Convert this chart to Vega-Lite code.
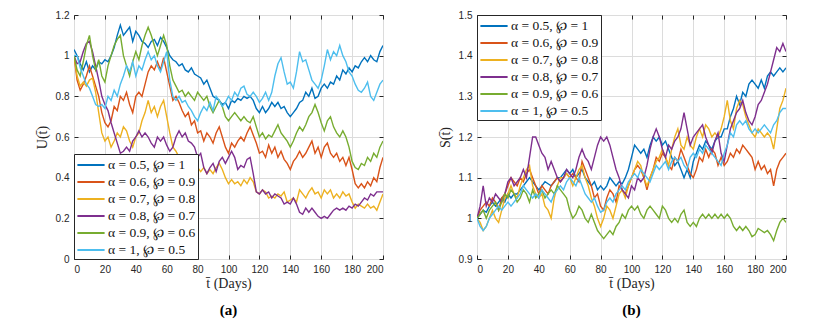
{
  "$schema": "https://vega.github.io/schema/vega-lite/v6.json",
  "background": "white",
  "padding": {"left": 34, "top": 9, "right": 5, "bottom": 5},
  "spacing": 94,
  "bounds": "flush",
  "resolve": {"legend": {"color": "independent"}},
  "config": {
    "view": {"stroke": "#262626", "strokeWidth": 1},
    "axis": {
      "domain": false,
      "grid": true,
      "gridColor": "#dcdcdc",
      "gridOpacity": 1,
      "gridWidth": 1,
      "ticks": false,
      "tickColor": "#262626",
      "labelFont": "Liberation Sans",
      "labelFontSize": 10,
      "labelColor": "#262626",
      "titleFont": "Liberation Serif",
      "titleFontSize": 14,
      "titleFontWeight": "normal",
      "titleColor": "#262626"
    },
    "axisX": {"labelPadding": 5},
    "axisY": {"labelPadding": 5},
    "legend": {
      "symbolType": "M-1.7,0H1.7",
      "symbolSize": 256,
      "symbolStrokeWidth": 2,
      "symbolOffset": 6,
      "labelFont": "Liberation Serif",
      "labelFontSize": 13.5,
      "labelOffset": 8,
      "labelColor": "#111111",
      "strokeColor": "#262626",
      "fillColor": "white",
      "padding": 2,
      "offset": 0,
      "cornerRadius": 0,
      "rowPadding": 1,
      "title": null
    }
  },
  "datasets": {
    "ua": [
      {"t":0,"s1":1.03,"s2":1.0,"s3":1.0,"s4":1.0,"s5":1.0,"s6":1.0},
      {"t":2,"s1":1.0,"s2":0.88,"s3":0.9,"s4":0.96,"s5":0.93,"s6":1.0},
      {"t":4,"s1":0.96,"s2":0.83,"s3":0.85,"s4":0.97,"s5":0.9,"s6":0.94},
      {"t":6,"s1":0.93,"s2":0.86,"s3":0.87,"s4":1.02,"s5":0.97,"s6":0.9},
      {"t":8,"s1":0.97,"s2":0.9,"s3":0.85,"s4":1.06,"s5":1.05,"s6":0.86},
      {"t":10,"s1":0.92,"s2":0.95,"s3":0.88,"s4":1.07,"s5":1.1,"s6":0.84},
      {"t":12,"s1":0.95,"s2":0.9,"s3":0.89,"s4":1.02,"s5":1.0,"s6":0.8},
      {"t":14,"s1":0.93,"s2":0.85,"s3":0.82,"s4":0.95,"s5":0.93,"s6":0.76},
      {"t":16,"s1":0.97,"s2":0.8,"s3":0.72,"s4":0.88,"s5":0.98,"s6":0.75},
      {"t":18,"s1":0.96,"s2":0.72,"s3":0.62,"s4":0.8,"s5":0.9,"s6":0.76},
      {"t":20,"s1":0.98,"s2":0.67,"s3":0.58,"s4":0.76,"s5":0.87,"s6":0.74},
      {"t":22,"s1":0.97,"s2":0.65,"s3":0.6,"s4":0.73,"s5":0.95,"s6":0.8},
      {"t":24,"s1":1.0,"s2":0.68,"s3":0.55,"s4":0.67,"s5":1.0,"s6":0.78},
      {"t":26,"s1":1.04,"s2":0.75,"s3":0.58,"s4":0.62,"s5":1.05,"s6":0.83},
      {"t":28,"s1":1.1,"s2":0.73,"s3":0.62,"s4":0.57,"s5":1.08,"s6":0.8},
      {"t":30,"s1":1.15,"s2":0.8,"s3":0.6,"s4":0.52,"s5":1.1,"s6":0.86},
      {"t":32,"s1":1.1,"s2":0.78,"s3":0.65,"s4":0.53,"s5":1.0,"s6":0.9},
      {"t":34,"s1":1.12,"s2":0.82,"s3":0.63,"s4":0.55,"s5":0.95,"s6":0.95},
      {"t":36,"s1":1.14,"s2":0.76,"s3":0.58,"s4":0.53,"s5":0.9,"s6":0.92},
      {"t":38,"s1":1.07,"s2":0.72,"s3":0.55,"s4":0.58,"s5":0.97,"s6":0.97},
      {"t":40,"s1":1.12,"s2":0.8,"s3":0.6,"s4":0.6,"s5":1.02,"s6":0.9},
      {"t":42,"s1":1.1,"s2":0.82,"s3":0.62,"s4":0.63,"s5":0.98,"s6":0.95},
      {"t":44,"s1":1.07,"s2":0.8,"s3":0.68,"s4":0.6,"s5":1.05,"s6":0.93},
      {"t":46,"s1":1.06,"s2":0.86,"s3":0.72,"s4":0.62,"s5":1.1,"s6":0.98},
      {"t":48,"s1":1.04,"s2":0.92,"s3":0.78,"s4":0.6,"s5":1.14,"s6":1.02},
      {"t":50,"s1":1.07,"s2":0.95,"s3":0.72,"s4":0.57,"s5":1.1,"s6":0.98},
      {"t":52,"s1":1.08,"s2":0.93,"s3":0.75,"s4":0.55,"s5":1.05,"s6":1.0},
      {"t":54,"s1":1.05,"s2":0.97,"s3":0.7,"s4":0.6,"s5":1.0,"s6":0.95},
      {"t":56,"s1":1.09,"s2":0.93,"s3":0.75,"s4":0.58,"s5":1.05,"s6":0.92},
      {"t":58,"s1":1.07,"s2":0.99,"s3":0.78,"s4":0.6,"s5":1.1,"s6":0.97},
      {"t":60,"s1":1.04,"s2":0.92,"s3":0.7,"s4":0.56,"s5":1.05,"s6":1.02},
      {"t":62,"s1":1.0,"s2":0.85,"s3":0.62,"s4":0.53,"s5":0.95,"s6":0.88},
      {"t":64,"s1":0.98,"s2":0.78,"s3":0.55,"s4":0.55,"s5":0.88,"s6":0.8},
      {"t":66,"s1":0.97,"s2":0.8,"s3":0.53,"s4":0.6,"s5":0.85,"s6":0.78},
      {"t":68,"s1":0.95,"s2":0.77,"s3":0.5,"s4":0.63,"s5":0.82,"s6":0.8},
      {"t":70,"s1":0.96,"s2":0.73,"s3":0.48,"s4":0.6,"s5":0.83,"s6":0.77},
      {"t":72,"s1":0.93,"s2":0.7,"s3":0.5,"s4":0.62,"s5":0.8,"s6":0.78},
      {"t":74,"s1":0.92,"s2":0.72,"s3":0.47,"s4":0.58,"s5":0.82,"s6":0.75},
      {"t":76,"s1":0.94,"s2":0.66,"s3":0.5,"s4":0.57,"s5":0.8,"s6":0.73},
      {"t":78,"s1":0.91,"s2":0.68,"s3":0.48,"s4":0.55,"s5":0.78,"s6":0.7},
      {"t":80,"s1":0.9,"s2":0.62,"s3":0.45,"s4":0.5,"s5":0.82,"s6":0.68},
      {"t":82,"s1":0.89,"s2":0.63,"s3":0.43,"s4":0.52,"s5":0.8,"s6":0.72},
      {"t":84,"s1":0.86,"s2":0.58,"s3":0.45,"s4":0.45,"s5":0.78,"s6":0.75},
      {"t":86,"s1":0.88,"s2":0.62,"s3":0.42,"s4":0.42,"s5":0.8,"s6":0.73},
      {"t":88,"s1":0.84,"s2":0.6,"s3":0.44,"s4":0.45,"s5":0.75,"s6":0.77},
      {"t":90,"s1":0.8,"s2":0.57,"s3":0.42,"s4":0.47,"s5":0.72,"s6":0.73},
      {"t":92,"s1":0.79,"s2":0.62,"s3":0.45,"s4":0.43,"s5":0.75,"s6":0.8},
      {"t":94,"s1":0.78,"s2":0.65,"s3":0.47,"s4":0.48,"s5":0.78,"s6":0.78},
      {"t":96,"s1":0.76,"s2":0.6,"s3":0.44,"s4":0.5,"s5":0.75,"s6":0.75},
      {"t":98,"s1":0.77,"s2":0.55,"s3":0.4,"s4":0.47,"s5":0.7,"s6":0.77},
      {"t":100,"s1":0.74,"s2":0.52,"s3":0.37,"s4":0.5,"s5":0.68,"s6":0.8},
      {"t":102,"s1":0.78,"s2":0.57,"s3":0.39,"s4":0.53,"s5":0.7,"s6":0.78},
      {"t":104,"s1":0.77,"s2":0.55,"s3":0.37,"s4":0.5,"s5":0.72,"s6":0.82},
      {"t":106,"s1":0.79,"s2":0.58,"s3":0.38,"s4":0.44,"s5":0.7,"s6":0.8},
      {"t":108,"s1":0.78,"s2":0.6,"s3":0.36,"s4":0.46,"s5":0.68,"s6":0.84},
      {"t":110,"s1":0.8,"s2":0.58,"s3":0.39,"s4":0.45,"s5":0.7,"s6":0.85},
      {"t":112,"s1":0.79,"s2":0.62,"s3":0.37,"s4":0.49,"s5":0.68,"s6":0.81},
      {"t":114,"s1":0.8,"s2":0.65,"s3":0.4,"s4":0.5,"s5":0.67,"s6":0.8},
      {"t":116,"s1":0.78,"s2":0.61,"s3":0.38,"s4":0.42,"s5":0.7,"s6":0.82},
      {"t":118,"s1":0.74,"s2":0.57,"s3":0.33,"s4":0.33,"s5":0.65,"s6":0.8},
      {"t":120,"s1":0.72,"s2":0.52,"s3":0.32,"s4":0.32,"s5":0.6,"s6":0.77},
      {"t":122,"s1":0.75,"s2":0.53,"s3":0.34,"s4":0.34,"s5":0.62,"s6":0.79},
      {"t":124,"s1":0.72,"s2":0.5,"s3":0.33,"s4":0.32,"s5":0.59,"s6":0.82},
      {"t":126,"s1":0.74,"s2":0.56,"s3":0.3,"s4":0.33,"s5":0.61,"s6":0.78},
      {"t":128,"s1":0.77,"s2":0.52,"s3":0.31,"s4":0.3,"s5":0.6,"s6":0.82},
      {"t":130,"s1":0.75,"s2":0.55,"s3":0.3,"s4":0.32,"s5":0.63,"s6":0.9},
      {"t":132,"s1":0.77,"s2":0.5,"s3":0.32,"s4":0.31,"s5":0.66,"s6":0.96},
      {"t":134,"s1":0.74,"s2":0.53,"s3":0.31,"s4":0.3,"s5":0.62,"s6":0.99},
      {"t":136,"s1":0.75,"s2":0.49,"s3":0.33,"s4":0.27,"s5":0.6,"s6":0.92},
      {"t":138,"s1":0.72,"s2":0.47,"s3":0.28,"s4":0.28,"s5":0.58,"s6":0.86},
      {"t":140,"s1":0.7,"s2":0.44,"s3":0.29,"s4":0.27,"s5":0.55,"s6":0.87},
      {"t":142,"s1":0.72,"s2":0.48,"s3":0.3,"s4":0.3,"s5":0.58,"s6":0.84},
      {"t":144,"s1":0.74,"s2":0.5,"s3":0.28,"s4":0.27,"s5":0.62,"s6":0.92},
      {"t":146,"s1":0.77,"s2":0.53,"s3":0.34,"s4":0.23,"s5":0.65,"s6":1.02},
      {"t":148,"s1":0.78,"s2":0.5,"s3":0.32,"s4":0.22,"s5":0.63,"s6":0.97},
      {"t":150,"s1":0.82,"s2":0.52,"s3":0.3,"s4":0.25,"s5":0.66,"s6":0.98},
      {"t":152,"s1":0.8,"s2":0.55,"s3":0.33,"s4":0.23,"s5":0.7,"s6":0.93},
      {"t":154,"s1":0.84,"s2":0.58,"s3":0.35,"s4":0.25,"s5":0.72,"s6":0.88},
      {"t":156,"s1":0.79,"s2":0.52,"s3":0.32,"s4":0.23,"s5":0.76,"s6":0.86},
      {"t":158,"s1":0.8,"s2":0.55,"s3":0.33,"s4":0.21,"s5":0.72,"s6":0.84},
      {"t":160,"s1":0.84,"s2":0.5,"s3":0.3,"s4":0.2,"s5":0.67,"s6":0.88},
      {"t":162,"s1":0.86,"s2":0.55,"s3":0.34,"s4":0.21,"s5":0.63,"s6":0.95},
      {"t":164,"s1":0.84,"s2":0.57,"s3":0.32,"s4":0.2,"s5":0.68,"s6":1.03},
      {"t":166,"s1":0.87,"s2":0.52,"s3":0.34,"s4":0.22,"s5":0.7,"s6":0.98},
      {"t":168,"s1":0.86,"s2":0.5,"s3":0.3,"s4":0.24,"s5":0.65,"s6":1.02},
      {"t":170,"s1":0.9,"s2":0.52,"s3":0.32,"s4":0.25,"s5":0.62,"s6":1.0},
      {"t":172,"s1":0.88,"s2":0.48,"s3":0.3,"s4":0.24,"s5":0.6,"s6":1.05},
      {"t":174,"s1":0.93,"s2":0.5,"s3":0.33,"s4":0.25,"s5":0.63,"s6":1.0},
      {"t":176,"s1":0.91,"s2":0.46,"s3":0.31,"s4":0.24,"s5":0.6,"s6":0.97},
      {"t":178,"s1":0.94,"s2":0.5,"s3":0.32,"s4":0.26,"s5":0.55,"s6":0.92},
      {"t":180,"s1":0.92,"s2":0.44,"s3":0.28,"s4":0.25,"s5":0.48,"s6":0.9},
      {"t":182,"s1":0.95,"s2":0.37,"s3":0.25,"s4":0.27,"s5":0.45,"s6":0.86},
      {"t":184,"s1":0.94,"s2":0.35,"s3":0.27,"s4":0.26,"s5":0.44,"s6":0.83},
      {"t":186,"s1":0.97,"s2":0.37,"s3":0.26,"s4":0.28,"s5":0.47,"s6":0.82},
      {"t":188,"s1":0.99,"s2":0.35,"s3":0.25,"s4":0.3,"s5":0.46,"s6":0.84},
      {"t":190,"s1":0.97,"s2":0.38,"s3":0.27,"s4":0.29,"s5":0.5,"s6":0.87},
      {"t":192,"s1":1.0,"s2":0.36,"s3":0.25,"s4":0.32,"s5":0.48,"s6":0.8},
      {"t":194,"s1":0.98,"s2":0.4,"s3":0.26,"s4":0.31,"s5":0.52,"s6":0.78},
      {"t":196,"s1":0.97,"s2":0.38,"s3":0.24,"s4":0.33,"s5":0.5,"s6":0.82},
      {"t":198,"s1":1.02,"s2":0.45,"s3":0.28,"s4":0.33,"s5":0.55,"s6":0.86},
      {"t":200,"s1":1.05,"s2":0.5,"s3":0.32,"s4":0.33,"s5":0.58,"s6":0.88}
    ],
    "sb": [
      {"t":0,"s1":1.0,"s2":1.0,"s3":1.0,"s4":1.0,"s5":1.0,"s6":1.0},
      {"t":2,"s1":1.01,"s2":1.02,"s3":0.99,"s4":1.03,"s5":1.01,"s6":0.98},
      {"t":4,"s1":1.02,"s2":1.03,"s3":0.97,"s4":1.08,"s5":1.02,"s6":0.97},
      {"t":6,"s1":1.015,"s2":1.04,"s3":0.98,"s4":1.03,"s5":1.0,"s6":0.98},
      {"t":8,"s1":1.03,"s2":1.03,"s3":1.0,"s4":1.05,"s5":1.02,"s6":1.0},
      {"t":10,"s1":1.04,"s2":1.05,"s3":1.02,"s4":1.04,"s5":1.03,"s6":1.01},
      {"t":12,"s1":1.03,"s2":1.04,"s3":1.0,"s4":1.06,"s5":1.04,"s6":1.02},
      {"t":14,"s1":1.04,"s2":1.02,"s3":0.99,"s4":1.05,"s5":1.02,"s6":1.03},
      {"t":16,"s1":1.05,"s2":1.05,"s3":1.02,"s4":1.04,"s5":1.04,"s6":1.02},
      {"t":18,"s1":1.04,"s2":1.06,"s3":1.05,"s4":1.06,"s5":1.06,"s6":1.03},
      {"t":20,"s1":1.06,"s2":1.08,"s3":1.06,"s4":1.09,"s5":1.05,"s6":1.04},
      {"t":22,"s1":1.05,"s2":1.1,"s3":1.08,"s4":1.1,"s5":1.07,"s6":1.03},
      {"t":24,"s1":1.06,"s2":1.09,"s3":1.06,"s4":1.08,"s5":1.06,"s6":1.04},
      {"t":26,"s1":1.06,"s2":1.08,"s3":1.05,"s4":1.09,"s5":1.04,"s6":1.05},
      {"t":28,"s1":1.07,"s2":1.1,"s3":1.08,"s4":1.1,"s5":1.05,"s6":1.06},
      {"t":30,"s1":1.08,"s2":1.09,"s3":1.1,"s4":1.12,"s5":1.07,"s6":1.08},
      {"t":32,"s1":1.09,"s2":1.11,"s3":1.12,"s4":1.1,"s5":1.06,"s6":1.07},
      {"t":34,"s1":1.1,"s2":1.12,"s3":1.13,"s4":1.15,"s5":1.04,"s6":1.06},
      {"t":36,"s1":1.09,"s2":1.1,"s3":1.08,"s4":1.2,"s5":1.07,"s6":1.05},
      {"t":38,"s1":1.08,"s2":1.08,"s3":1.06,"s4":1.2,"s5":1.05,"s6":1.06},
      {"t":40,"s1":1.07,"s2":1.06,"s3":1.05,"s4":1.18,"s5":1.06,"s6":1.05},
      {"t":42,"s1":1.08,"s2":1.08,"s3":1.06,"s4":1.16,"s5":1.07,"s6":1.07},
      {"t":44,"s1":1.09,"s2":1.07,"s3":1.03,"s4":1.15,"s5":1.05,"s6":1.06},
      {"t":46,"s1":1.085,"s2":1.06,"s3":1.02,"s4":1.12,"s5":1.06,"s6":1.05},
      {"t":48,"s1":1.08,"s2":1.08,"s3":1.0,"s4":1.14,"s5":1.07,"s6":1.04},
      {"t":50,"s1":1.09,"s2":1.09,"s3":1.05,"s4":1.12,"s5":1.06,"s6":1.06},
      {"t":52,"s1":1.1,"s2":1.1,"s3":1.08,"s4":1.1,"s5":1.08,"s6":1.07},
      {"t":54,"s1":1.1,"s2":1.09,"s3":1.1,"s4":1.09,"s5":1.07,"s6":1.08},
      {"t":56,"s1":1.11,"s2":1.1,"s3":1.1,"s4":1.1,"s5":1.06,"s6":1.07},
      {"t":58,"s1":1.12,"s2":1.11,"s3":1.11,"s4":1.12,"s5":1.05,"s6":1.09},
      {"t":60,"s1":1.11,"s2":1.1,"s3":1.1,"s4":1.11,"s5":1.02,"s6":1.1},
      {"t":62,"s1":1.12,"s2":1.11,"s3":1.08,"s4":1.1,"s5":1.0,"s6":1.09},
      {"t":64,"s1":1.1,"s2":1.1,"s3":1.1,"s4":1.12,"s5":1.01,"s6":1.08},
      {"t":66,"s1":1.11,"s2":1.09,"s3":1.12,"s4":1.15,"s5":1.03,"s6":1.1},
      {"t":68,"s1":1.12,"s2":1.14,"s3":1.13,"s4":1.17,"s5":1.02,"s6":1.08},
      {"t":70,"s1":1.1,"s2":1.12,"s3":1.1,"s4":1.15,"s5":1.0,"s6":1.06},
      {"t":72,"s1":1.09,"s2":1.1,"s3":1.08,"s4":1.14,"s5":0.99,"s6":1.05},
      {"t":74,"s1":1.08,"s2":1.08,"s3":1.05,"s4":1.12,"s5":1.01,"s6":1.04},
      {"t":76,"s1":1.09,"s2":1.05,"s3":1.03,"s4":1.15,"s5":0.99,"s6":1.05},
      {"t":78,"s1":1.07,"s2":1.06,"s3":1.0,"s4":1.18,"s5":0.97,"s6":1.03},
      {"t":80,"s1":1.08,"s2":1.03,"s3":0.98,"s4":1.2,"s5":0.96,"s6":1.015},
      {"t":82,"s1":1.07,"s2":1.02,"s3":1.0,"s4":1.19,"s5":0.95,"s6":1.02},
      {"t":84,"s1":1.08,"s2":1.05,"s3":1.03,"s4":1.2,"s5":0.96,"s6":1.04},
      {"t":86,"s1":1.1,"s2":1.07,"s3":1.02,"s4":1.18,"s5":0.97,"s6":1.05},
      {"t":88,"s1":1.09,"s2":1.06,"s3":1.0,"s4":1.15,"s5":0.96,"s6":1.04},
      {"t":90,"s1":1.08,"s2":1.04,"s3":1.03,"s4":1.12,"s5":0.98,"s6":1.06},
      {"t":92,"s1":1.09,"s2":1.08,"s3":1.06,"s4":1.1,"s5":0.99,"s6":1.07},
      {"t":94,"s1":1.085,"s2":1.07,"s3":1.07,"s4":1.07,"s5":1.01,"s6":1.08},
      {"t":96,"s1":1.1,"s2":1.06,"s3":1.05,"s4":1.06,"s5":1.0,"s6":1.07},
      {"t":98,"s1":1.12,"s2":1.08,"s3":1.08,"s4":1.05,"s5":1.02,"s6":1.09},
      {"t":100,"s1":1.15,"s2":1.1,"s3":1.1,"s4":1.08,"s5":1.03,"s6":1.1},
      {"t":102,"s1":1.18,"s2":1.12,"s3":1.12,"s4":1.07,"s5":1.02,"s6":1.11},
      {"t":104,"s1":1.17,"s2":1.13,"s3":1.14,"s4":1.1,"s5":1.03,"s6":1.1},
      {"t":106,"s1":1.16,"s2":1.12,"s3":1.13,"s4":1.09,"s5":1.01,"s6":1.12},
      {"t":108,"s1":1.17,"s2":1.1,"s3":1.1,"s4":1.1,"s5":1.0,"s6":1.11},
      {"t":110,"s1":1.15,"s2":1.07,"s3":1.08,"s4":1.13,"s5":1.02,"s6":1.1},
      {"t":112,"s1":1.18,"s2":1.1,"s3":1.1,"s4":1.17,"s5":1.03,"s6":1.09},
      {"t":114,"s1":1.2,"s2":1.12,"s3":1.12,"s4":1.2,"s5":1.02,"s6":1.11},
      {"t":116,"s1":1.19,"s2":1.15,"s3":1.14,"s4":1.22,"s5":1.01,"s6":1.13},
      {"t":118,"s1":1.2,"s2":1.14,"s3":1.15,"s4":1.2,"s5":1.0,"s6":1.12},
      {"t":120,"s1":1.18,"s2":1.16,"s3":1.17,"s4":1.17,"s5":1.03,"s6":1.13},
      {"t":122,"s1":1.19,"s2":1.15,"s3":1.15,"s4":1.15,"s5":1.02,"s6":1.14},
      {"t":124,"s1":1.17,"s2":1.13,"s3":1.13,"s4":1.18,"s5":1.0,"s6":1.12},
      {"t":126,"s1":1.15,"s2":1.12,"s3":1.17,"s4":1.17,"s5":0.99,"s6":1.14},
      {"t":128,"s1":1.13,"s2":1.15,"s3":1.2,"s4":1.19,"s5":1.0,"s6":1.15},
      {"t":130,"s1":1.14,"s2":1.14,"s3":1.22,"s4":1.2,"s5":0.99,"s6":1.14},
      {"t":132,"s1":1.12,"s2":1.17,"s3":1.18,"s4":1.22,"s5":1.01,"s6":1.15},
      {"t":134,"s1":1.1,"s2":1.15,"s3":1.17,"s4":1.26,"s5":1.02,"s6":1.13},
      {"t":136,"s1":1.12,"s2":1.13,"s3":1.2,"s4":1.22,"s5":0.99,"s6":1.12},
      {"t":138,"s1":1.1,"s2":1.11,"s3":1.18,"s4":1.18,"s5":0.98,"s6":1.15},
      {"t":140,"s1":1.14,"s2":1.1,"s3":1.17,"s4":1.2,"s5":0.99,"s6":1.16},
      {"t":142,"s1":1.16,"s2":1.12,"s3":1.2,"s4":1.21,"s5":0.98,"s6":1.15},
      {"t":144,"s1":1.18,"s2":1.15,"s3":1.22,"s4":1.22,"s5":1.0,"s6":1.17},
      {"t":146,"s1":1.17,"s2":1.14,"s3":1.2,"s4":1.23,"s5":1.01,"s6":1.16},
      {"t":148,"s1":1.19,"s2":1.17,"s3":1.23,"s4":1.2,"s5":1.0,"s6":1.18},
      {"t":150,"s1":1.18,"s2":1.15,"s3":1.22,"s4":1.18,"s5":1.01,"s6":1.17},
      {"t":152,"s1":1.17,"s2":1.17,"s3":1.2,"s4":1.16,"s5":1.0,"s6":1.16},
      {"t":154,"s1":1.19,"s2":1.16,"s3":1.21,"s4":1.19,"s5":1.01,"s6":1.15},
      {"t":156,"s1":1.2,"s2":1.13,"s3":1.2,"s4":1.21,"s5":1.0,"s6":1.14},
      {"t":158,"s1":1.2,"s2":1.15,"s3":1.22,"s4":1.16,"s5":1.01,"s6":1.13},
      {"t":160,"s1":1.22,"s2":1.13,"s3":1.25,"s4":1.14,"s5":1.0,"s6":1.16},
      {"t":162,"s1":1.22,"s2":1.14,"s3":1.29,"s4":1.18,"s5":1.01,"s6":1.18},
      {"t":164,"s1":1.25,"s2":1.16,"s3":1.24,"s4":1.22,"s5":1.0,"s6":1.21},
      {"t":166,"s1":1.27,"s2":1.15,"s3":1.22,"s4":1.24,"s5":0.98,"s6":1.2},
      {"t":168,"s1":1.3,"s2":1.17,"s3":1.27,"s4":1.26,"s5":0.97,"s6":1.23},
      {"t":170,"s1":1.28,"s2":1.16,"s3":1.29,"s4":1.27,"s5":0.98,"s6":1.24},
      {"t":172,"s1":1.31,"s2":1.18,"s3":1.28,"s4":1.29,"s5":0.97,"s6":1.23},
      {"t":174,"s1":1.3,"s2":1.17,"s3":1.25,"s4":1.26,"s5":0.98,"s6":1.24},
      {"t":176,"s1":1.33,"s2":1.16,"s3":1.23,"s4":1.24,"s5":0.97,"s6":1.22},
      {"t":178,"s1":1.34,"s2":1.15,"s3":1.21,"s4":1.23,"s5":0.955,"s6":1.21},
      {"t":180,"s1":1.33,"s2":1.12,"s3":1.2,"s4":1.25,"s5":0.96,"s6":1.22},
      {"t":182,"s1":1.32,"s2":1.14,"s3":1.22,"s4":1.28,"s5":0.975,"s6":1.21},
      {"t":184,"s1":1.34,"s2":1.12,"s3":1.21,"s4":1.29,"s5":0.97,"s6":1.22},
      {"t":186,"s1":1.32,"s2":1.13,"s3":1.2,"s4":1.31,"s5":0.965,"s6":1.23},
      {"t":188,"s1":1.35,"s2":1.11,"s3":1.21,"s4":1.33,"s5":0.97,"s6":1.22},
      {"t":190,"s1":1.36,"s2":1.12,"s3":1.2,"s4":1.36,"s5":0.96,"s6":1.21},
      {"t":192,"s1":1.35,"s2":1.08,"s3":1.17,"s4":1.39,"s5":0.945,"s6":1.23},
      {"t":194,"s1":1.36,"s2":1.12,"s3":1.22,"s4":1.42,"s5":0.97,"s6":1.24},
      {"t":196,"s1":1.37,"s2":1.14,"s3":1.27,"s4":1.41,"s5":0.99,"s6":1.26},
      {"t":198,"s1":1.36,"s2":1.15,"s3":1.29,"s4":1.43,"s5":1.0,"s6":1.27},
      {"t":200,"s1":1.37,"s2":1.16,"s3":1.32,"s4":1.41,"s5":0.99,"s6":1.27}
    ]
  },
  "hconcat": [
    {
      "width": 309,
      "height": 244,
      "data": {"name": "ua"},
      "transform": [{"fold": ["s1","s2","s3","s4","s5","s6"], "as": ["k","v"]}],
      "title": {"text": "(a)", "orient": "bottom", "anchor": "middle", "font": "Liberation Serif", "fontSize": 15, "fontWeight": "bold", "color": "#000000", "offset": 13},
      "resolve": {"axis": {"x": "independent", "y": "independent"}},
      "layer": [
        {
          "mark": {"type": "line", "strokeWidth": 1.4, "clip": true},
          "encoding": {
            "x": {"field": "t", "type": "quantitative", "scale": {"domain": [0,200], "nice": false}, "axis": {"orient": "bottom", "grid": true, "values": [0,20,40,60,80,100,120,140,160,180,200], "title": "t̄  (Days)", "titlePadding": 2}},
            "y": {"field": "v", "type": "quantitative", "scale": {"domain": [0,1.2], "nice": false, "zero": false}, "axis": {"orient": "left", "grid": true, "values": [0,0.2,0.4,0.6,0.8,1,1.2], "format": "~g", "title": "U(t̄)", "titlePadding": 6}},
            "color": {"field": "k", "type": "nominal", "scale": {"domain": ["s1","s2","s3","s4","s5","s6"], "range": ["#0072BD","#D95319","#EDB120","#7E2F8E","#77AC30","#4DBEEE"]}, "legend": {"orient": "bottom-left", "labelExpr": "datum.label == 's1' ? 'α = 0.5, ℘ = 1' : datum.label == 's2' ? 'α = 0.6, ℘ = 0.9' : datum.label == 's3' ? 'α = 0.7, ℘ = 0.8' : datum.label == 's4' ? 'α = 0.8, ℘ = 0.7' : datum.label == 's5' ? 'α = 0.9, ℘ = 0.6' : 'α = 1, ℘ = 0.5'"}}
          }
        },
        {
          "mark": {"type": "line", "strokeOpacity": 0, "clip": true},
          "encoding": {
            "x": {"field": "t", "type": "quantitative", "scale": {"domain": [0,200], "nice": false}, "axis": {"orient": "top", "grid": false, "labels": false, "ticks": true, "tickSize": -4, "title": null, "values": [0,20,40,60,80,100,120,140,160,180,200]}},
            "y": {"field": "v", "type": "quantitative", "scale": {"domain": [0,1.2], "nice": false, "zero": false}, "axis": {"orient": "right", "grid": false, "labels": false, "ticks": true, "tickSize": -4, "title": null, "values": [0,0.2,0.4,0.6,0.8,1,1.2]}},
            "detail": {"field": "k", "type": "nominal"}
          }
        },
        {
          "mark": {"type": "line", "strokeOpacity": 0, "clip": true},
          "encoding": {
            "x": {"field": "t", "type": "quantitative", "scale": {"domain": [0,200], "nice": false}, "axis": {"orient": "bottom", "grid": false, "labels": false, "ticks": true, "tickSize": -4, "title": null, "values": [0,20,40,60,80,100,120,140,160,180,200]}},
            "y": {"field": "v", "type": "quantitative", "scale": {"domain": [0,1.2], "nice": false, "zero": false}, "axis": {"orient": "left", "grid": false, "labels": false, "ticks": true, "tickSize": -4, "title": null, "values": [0,0.2,0.4,0.6,0.8,1,1.2]}},
            "detail": {"field": "k", "type": "nominal"}
          }
        }
      ]
    },
    {
      "width": 309,
      "height": 244,
      "data": {"name": "sb"},
      "transform": [{"fold": ["s1","s2","s3","s4","s5","s6"], "as": ["k","v"]}],
      "title": {"text": "(b)", "orient": "bottom", "anchor": "middle", "font": "Liberation Serif", "fontSize": 15, "fontWeight": "bold", "color": "#000000", "offset": 13},
      "resolve": {"axis": {"x": "independent", "y": "independent"}},
      "layer": [
        {
          "mark": {"type": "line", "strokeWidth": 1.4, "clip": true},
          "encoding": {
            "x": {"field": "t", "type": "quantitative", "scale": {"domain": [0,200], "nice": false}, "axis": {"orient": "bottom", "grid": true, "values": [0,20,40,60,80,100,120,140,160,180,200], "title": "t̄  (Days)", "titlePadding": 2}},
            "y": {"field": "v", "type": "quantitative", "scale": {"domain": [0.9,1.5], "nice": false, "zero": false}, "axis": {"orient": "left", "grid": true, "values": [0.9,1,1.1,1.2,1.3,1.4,1.5], "format": "~g", "title": "S(t̄)", "titlePadding": 6}},
            "color": {"field": "k", "type": "nominal", "scale": {"domain": ["s1","s2","s3","s4","s5","s6"], "range": ["#0072BD","#D95319","#EDB120","#7E2F8E","#77AC30","#4DBEEE"]}, "legend": {"orient": "top-left", "labelExpr": "datum.label == 's1' ? 'α = 0.5, ℘ = 1' : datum.label == 's2' ? 'α = 0.6, ℘ = 0.9' : datum.label == 's3' ? 'α = 0.7, ℘ = 0.8' : datum.label == 's4' ? 'α = 0.8, ℘ = 0.7' : datum.label == 's5' ? 'α = 0.9, ℘ = 0.6' : 'α = 1, ℘ = 0.5'"}}
          }
        },
        {
          "mark": {"type": "line", "strokeOpacity": 0, "clip": true},
          "encoding": {
            "x": {"field": "t", "type": "quantitative", "scale": {"domain": [0,200], "nice": false}, "axis": {"orient": "top", "grid": false, "labels": false, "ticks": true, "tickSize": -4, "title": null, "values": [0,20,40,60,80,100,120,140,160,180,200]}},
            "y": {"field": "v", "type": "quantitative", "scale": {"domain": [0.9,1.5], "nice": false, "zero": false}, "axis": {"orient": "right", "grid": false, "labels": false, "ticks": true, "tickSize": -4, "title": null, "values": [0.9,1,1.1,1.2,1.3,1.4,1.5]}},
            "detail": {"field": "k", "type": "nominal"}
          }
        },
        {
          "mark": {"type": "line", "strokeOpacity": 0, "clip": true},
          "encoding": {
            "x": {"field": "t", "type": "quantitative", "scale": {"domain": [0,200], "nice": false}, "axis": {"orient": "bottom", "grid": false, "labels": false, "ticks": true, "tickSize": -4, "title": null, "values": [0,20,40,60,80,100,120,140,160,180,200]}},
            "y": {"field": "v", "type": "quantitative", "scale": {"domain": [0.9,1.5], "nice": false, "zero": false}, "axis": {"orient": "left", "grid": false, "labels": false, "ticks": true, "tickSize": -4, "title": null, "values": [0.9,1,1.1,1.2,1.3,1.4,1.5]}},
            "detail": {"field": "k", "type": "nominal"}
          }
        }
      ]
    }
  ]
}
